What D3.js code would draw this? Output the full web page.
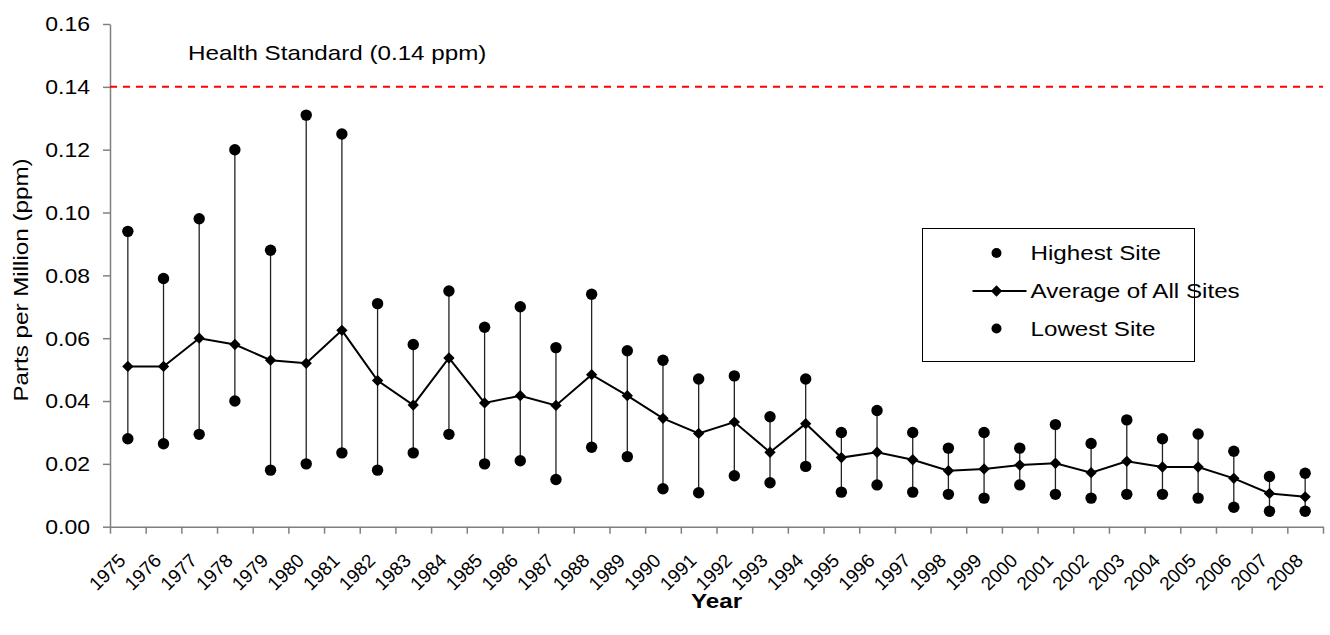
<!DOCTYPE html>
<html>
<head>
<meta charset="utf-8">
<script src="https://cdn.jsdelivr.net/npm/d3@7"></script>
<style>
  body { margin: 0; background: #fff; }
  text { font-family: "Liberation Sans", Arial, sans-serif; fill: #000; }
</style>
</head>
<body>
<svg id="chart"></svg>
<script>
var years = ["1975","1976","1977","1978","1979","1980","1981","1982","1983","1984","1985","1986",
  "1987","1988","1989","1990","1991","1992","1993","1994","1995","1996","1997","1998","1999",
  "2000","2001","2002","2003","2004","2005","2006","2007","2008"]
var highest = [0.094,0.079,0.098,0.120,0.088,0.131,0.125,0.071,0.058,0.075,0.0635,0.070,0.057,
  0.074,0.056,0.053,0.047,0.048,0.035,0.047,0.030,0.037,0.030,0.025,0.030,0.025,0.0325,0.0265,
  0.034,0.028,0.0295,0.024,0.016,0.017]
var average = [0.051,0.051,0.060,0.058,0.053,0.052,0.0625,0.0465,0.0387,0.0537,0.0394,0.0417,
  0.0386,0.0484,0.0417,0.0345,0.0297,0.0333,0.0237,0.0328,0.022,0.0237,0.0213,0.0178,0.0184,
  0.0196,0.0202,0.0172,0.0208,0.019,0.019,0.0154,0.0106,0.0095]
var lowest = [0.028,0.0264,0.0294,0.040,0.018,0.020,0.0235,0.018,0.0235,0.0294,0.020,0.021,0.015,
  0.0253,0.0223,0.0121,0.0108,0.0162,0.014,0.0192,0.011,0.0133,0.011,0.0103,0.0091,0.0133,0.0103,
  0.0091,0.0103,0.0103,0.0091,0.0062,0.0049,0.0049]
var yTicks = [0, 0.02, 0.04, 0.06, 0.08, 0.10, 0.12, 0.14, 0.16]
var standard = 0.14
var seriesNames = ["Highest Site", "Average of All Sites", "Lowest Site"]

var dimensions = {
  width: 1330,
  height: 635,
  margin: { top: 24, bottom: 108.3, left: 110, right: 7 }
}
var sx = 1.18

var svg = d3.select("#chart")
  .attr("width", dimensions.width)
  .attr("height", dimensions.height)

var x0 = dimensions.margin.left
var x1 = dimensions.width - dimensions.margin.right
var yBottom = dimensions.height - dimensions.margin.bottom

var xScale = d3.scaleBand()
  .domain(years)
  .range([x0, x1])
  .padding(0)

var edgeScale = d3.scaleLinear()
  .domain([0, years.length])
  .range([x0, x1])

var yScale = d3.scaleLinear()
  .domain([0, 0.16])
  .range([yBottom, dimensions.margin.top])

var cx = d => xScale(d) + xScale.bandwidth() / 2

// y axis
var yAxis = svg.append("g")
  .attr("transform", `translate(${x0},0)`)
  .call(d3.axisLeft(yScale).tickValues(yTicks).tickFormat(d3.format(".2f")).tickSize(7).tickSizeOuter(0))
yAxis.select(".domain").attr("stroke", "#808080").attr("stroke-width", 1.5)
yAxis.selectAll(".tick line").attr("stroke", "#808080").attr("stroke-width", 1.5)
yAxis.selectAll(".tick text")
  .attr("x", 0)
  .attr("dy", "0.35em")
  .attr("transform", `translate(-20,0) scale(${sx},1)`)
  .style("font-size", "19.5px")
  .style("font-family", "Liberation Sans, Arial, sans-serif")
  .attr("fill", "#000")

// x axis tick marks at category edges
var xMarks = svg.append("g")
  .attr("transform", `translate(0,${yBottom})`)
  .call(d3.axisBottom(edgeScale).tickValues(d3.range(years.length + 1)).tickFormat("").tickSize(7).tickSizeOuter(0))
xMarks.select(".domain").attr("stroke", "#808080").attr("stroke-width", 1.5)
xMarks.selectAll(".tick line").attr("stroke", "#808080").attr("stroke-width", 1.5)

// x labels
var xAxis = svg.append("g")
  .attr("transform", `translate(0,${yBottom})`)
  .call(d3.axisBottom(xScale).tickSize(0).tickSizeOuter(0))
xAxis.select(".domain").remove()
xAxis.selectAll(".tick text")
  .attr("x", 0)
  .attr("y", 0)
  .attr("dy", 0)
  .attr("text-anchor", "end")
  .attr("transform", "translate(-1,35) rotate(-45)")
  .style("font-size", "19px")
  .style("font-family", "Liberation Sans, Arial, sans-serif")
  .attr("fill", "#000")

// health standard
svg.append("line")
  .attr("x1", x0)
  .attr("x2", x1)
  .attr("y1", yScale(standard))
  .attr("y2", yScale(standard))
  .attr("stroke", "#ff0000")
  .attr("stroke-width", 2)
  .attr("stroke-dasharray", "7,6")

svg.append("text")
  .attr("transform", `translate(188,60) scale(${sx},1)`)
  .style("font-size", "20.5px")
  .text("Health Standard (0.14 ppm)")

// range lines
svg.append("g")
  .selectAll("line")
  .data(years)
  .enter()
  .append("line")
  .attr("x1", d => cx(d))
  .attr("x2", d => cx(d))
  .attr("y1", (d, i) => yScale(highest[i]))
  .attr("y2", (d, i) => yScale(lowest[i]))
  .attr("stroke", "#222")
  .attr("stroke-width", 1.3)

// average line
var line = d3.line()
  .x((d, i) => cx(years[i]))
  .y(d => yScale(d))

svg.append("path")
  .datum(average)
  .attr("d", line)
  .attr("fill", "none")
  .attr("stroke", "#000")
  .attr("stroke-width", 2)

var diamond = d3.symbol().type(d3.symbolSquare).size(64)

svg.append("g")
  .selectAll("path")
  .data(average)
  .enter()
  .append("path")
  .attr("d", diamond)
  .attr("transform", (d, i) => `translate(${cx(years[i])},${yScale(d)}) rotate(45)`)
  .attr("fill", "#000")

svg.append("g")
  .selectAll("circle")
  .data(highest)
  .enter()
  .append("circle")
  .attr("cx", (d, i) => cx(years[i]))
  .attr("cy", d => yScale(d))
  .attr("r", 5.7)
  .attr("fill", "#000")

svg.append("g")
  .selectAll("circle")
  .data(lowest)
  .enter()
  .append("circle")
  .attr("cx", (d, i) => cx(years[i]))
  .attr("cy", d => yScale(d))
  .attr("r", 5.7)
  .attr("fill", "#000")

// axis titles
svg.append("text")
  .attr("text-anchor", "middle")
  .attr("transform", `translate(28,280) rotate(-90) scale(${sx},1)`)
  .style("font-size", "20.5px")
  .text("Parts per Million (ppm)")

svg.append("text")
  .attr("text-anchor", "middle")
  .attr("transform", `translate(${(x0 + x1) / 2},608) scale(${sx},1)`)
  .style("font-size", "20.5px")
  .style("font-weight", "bold")
  .text("Year")

// legend
var legend = svg.append("g").attr("transform", "translate(922.5,228.5)")
legend.append("rect")
  .attr("width", 272)
  .attr("height", 133)
  .attr("fill", "#fff")
  .attr("stroke", "#000")
  .attr("stroke-width", 1)

var rowY = [24.5, 62.5, 100]
seriesNames.forEach(function (name, i) {
  var g = legend.append("g").attr("transform", `translate(0,${rowY[i]})`)
  if (i === 1) {
    g.append("line").attr("x1", 50).attr("x2", 104).attr("stroke", "#000").attr("stroke-width", 2)
    g.append("path").attr("d", diamond).attr("transform", "translate(74,0) rotate(45)").attr("fill", "#000")
  } else {
    g.append("circle").attr("cx", 74).attr("r", 5).attr("fill", "#000")
  }
  g.append("text")
    .attr("dy", "0.35em")
    .attr("transform", `translate(108,0) scale(${sx},1)`)
    .style("font-size", "20.5px")
    .text(name)
})
</script>
</body>
</html>
